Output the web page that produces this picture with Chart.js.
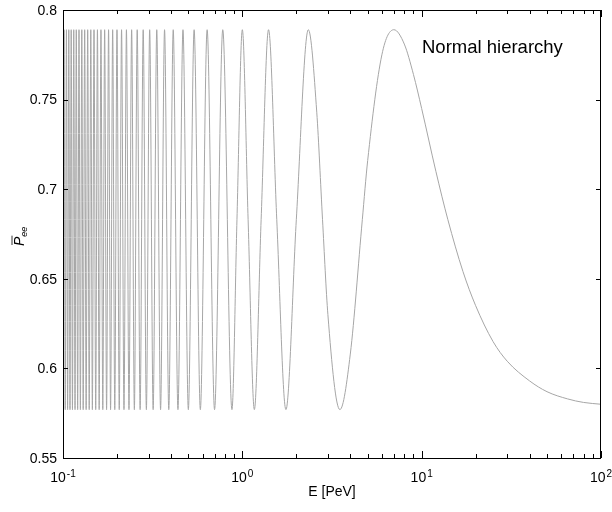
<!DOCTYPE html>
<html>
<head>
<meta charset="utf-8">
<script src="https://cdn.jsdelivr.net/npm/chart.js@4/dist/chart.umd.min.js"></script>
<style>
  body { margin: 0; background: #fff; }
  canvas { display: block; }
</style>
</head>
<body>
<canvas id="chart" width="612" height="512"></canvas>
<script>
// energies (PeV): turning points plus a few in between
var energyPeV = [
  0.1000, 0.1014, 0.1029, 0.1045, 0.1061, 0.1077, 0.1094, 0.1111, 0.1129, 0.1148,
  0.1167, 0.1186, 0.1207, 0.1228, 0.1250, 0.1273, 0.1296, 0.1321, 0.1346, 0.1373,
  0.1400, 0.1429, 0.1458, 0.1489, 0.1522, 0.1556, 0.1591, 0.1628, 0.1667, 0.1707,
  0.1750, 0.1795, 0.1842, 0.1892, 0.1944, 0.2000, 0.2059, 0.2121, 0.2188, 0.2258,
  0.2333, 0.2414, 0.2500, 0.2593, 0.2692, 0.2800, 0.2917, 0.3043, 0.3182, 0.3333,
  0.3500, 0.3684, 0.3889, 0.4118, 0.4375, 0.4667, 0.5000, 0.5385, 0.5833, 0.6364,
  0.7000, 0.7778, 0.8750, 0.9333, 1.000, 1.077, 1.167, 1.273, 1.400, 1.556,
  1.750, 2.000, 2.333, 2.600, 2.800, 3.000, 3.500, 4.000, 4.667, 5.000,
  6.000, 7.000, 8.000, 9.000, 10.00, 12.00, 14.00, 17.00, 20.00, 25.00,
  30.00, 40.00, 50.00, 65.00, 80.00, 100.0
];
var pee = [
  0.577, 0.789, 0.577, 0.789, 0.577, 0.789, 0.577, 0.789, 0.577, 0.789,
  0.577, 0.789, 0.577, 0.789, 0.577, 0.789, 0.577, 0.789, 0.577, 0.789,
  0.577, 0.789, 0.577, 0.789, 0.577, 0.789, 0.577, 0.789, 0.577, 0.789,
  0.577, 0.789, 0.577, 0.789, 0.577, 0.789, 0.577, 0.789, 0.577, 0.789,
  0.577, 0.789, 0.577, 0.789, 0.577, 0.789, 0.577, 0.789, 0.577, 0.789,
  0.577, 0.789, 0.577, 0.789, 0.577, 0.789, 0.577, 0.789, 0.577, 0.789,
  0.577, 0.789, 0.577, 0.683, 0.789, 0.683, 0.577, 0.683, 0.789, 0.683,
  0.577, 0.683, 0.789, 0.743, 0.683, 0.630, 0.577, 0.608, 0.683, 0.716,
  0.775, 0.789, 0.781, 0.764, 0.745, 0.710, 0.683, 0.654, 0.635, 0.615,
  0.604, 0.593, 0.587, 0.583, 0.581, 0.580
];

var yTicks = [0.55, 0.6, 0.65, 0.7, 0.75, 0.8];
var yTickLabels = ['0.55', '0.6', '0.65', '0.7', '0.75', '0.8'];
var xDecades = [0.1, 1, 10, 100];
var xDecadeExp = ['-1', '0', '1', '2'];
var xMinorSteps = [2, 3, 4, 5, 6, 7, 8, 9];

var FONT = '"Liberation Sans", Arial, Helvetica, sans-serif';

var axesPlugin = {
  id: 'axesBox',
  afterDraw: function(chart) {
    var ctx = chart.ctx;
    var a = chart.chartArea;
    var xs = chart.scales.x, ys = chart.scales.y;
    ctx.save();
    ctx.strokeStyle = '#000';
    ctx.lineWidth = 1;
    ctx.strokeRect(Math.round(a.left) + 0.5, Math.round(a.top) + 0.5,
                   Math.round(a.right - a.left) - 1, Math.round(a.bottom - a.top));

    function tickX(px, len) {
      px = Math.round(px) + 0.5;
      ctx.beginPath();
      ctx.moveTo(px, a.bottom); ctx.lineTo(px, a.bottom - len);
      ctx.moveTo(px, a.top); ctx.lineTo(px, a.top + len);
      ctx.stroke();
    }
    xDecades.forEach(function(d, i) {
      tickX(xs.getPixelForValue(d), 7);
      if (i < xDecades.length - 1) {
        xMinorSteps.forEach(function(m) { tickX(xs.getPixelForValue(d * m), 4); });
      }
    });
    yTicks.forEach(function(v) {
      var py = Math.round(ys.getPixelForValue(v)) + 0.5;
      ctx.beginPath();
      ctx.moveTo(a.left, py); ctx.lineTo(a.left + 5, py);
      ctx.moveTo(a.right, py); ctx.lineTo(a.right - 5, py);
      ctx.stroke();
    });

    ctx.fillStyle = '#000';
    // y tick labels
    ctx.font = '14px ' + FONT;
    ctx.textAlign = 'right';
    ctx.textBaseline = 'middle';
    yTicks.forEach(function(v, i) {
      ctx.fillText(yTickLabels[i], a.left - 6, ys.getPixelForValue(v) + 1);
    });

    // x tick labels 10^n
    ctx.textAlign = 'left';
    ctx.textBaseline = 'alphabetic';
    xDecades.forEach(function(d, i) {
      ctx.font = '14px ' + FONT;
      var w1 = ctx.measureText('10').width;
      ctx.font = '10px ' + FONT;
      var w2 = ctx.measureText(xDecadeExp[i]).width;
      var x0 = xs.getPixelForValue(d) - (w1 + w2 + 1) / 2;
      ctx.font = '14px ' + FONT;
      ctx.fillText('10', x0, 482);
      ctx.font = '10px ' + FONT;
      ctx.fillText(xDecadeExp[i], x0 + w1 + 1, 477);
    });

    // axis titles
    ctx.font = '14px ' + FONT;
    ctx.textAlign = 'center';
    ctx.fillText('E [PeV]', (a.left + a.right) / 2, 496);

    ctx.save();
    ctx.translate(24, (a.top + a.bottom) / 2 + 2);
    ctx.rotate(-Math.PI / 2);
    ctx.textAlign = 'left';
    ctx.font = 'italic 14px ' + FONT;
    var pw = ctx.measureText('P').width;
    ctx.fillText('P', -10, 0);
    ctx.beginPath();
    ctx.lineWidth = 0.8;
    ctx.moveTo(-9, -12); ctx.lineTo(-10 + pw + 1, -12);
    ctx.stroke();
    ctx.font = 'italic 9px ' + FONT;
    ctx.fillText('ee', -10 + pw, 3);
    ctx.restore();

    // annotation
    ctx.font = '18.5px ' + FONT;
    ctx.textAlign = 'left';
    ctx.fillText('Normal hierarchy', 422, 53);
    ctx.restore();
  }
};

var points = energyPeV.map(function(e, i) { return { x: e, y: pee[i] }; });

new Chart(document.getElementById('chart').getContext('2d'), {
  type: 'line',
  data: {
    datasets: [{
      data: points,
      borderColor: '#a6a6a6',
      borderWidth: 1,
      pointRadius: 0,
      fill: false,
      cubicInterpolationMode: 'monotone'
    }]
  },
  options: {
    responsive: false,
    animation: false,
    layout: { padding: { left: 63, top: 10, right: 11, bottom: 54 } },
    scales: {
      x: { type: 'logarithmic', min: 0.1, max: 100, display: false },
      y: { type: 'linear', min: 0.55, max: 0.8, display: false }
    },
    plugins: {
      legend: { display: false },
      tooltip: { enabled: false }
    }
  },
  plugins: [axesPlugin]
});
</script>
</body>
</html>
